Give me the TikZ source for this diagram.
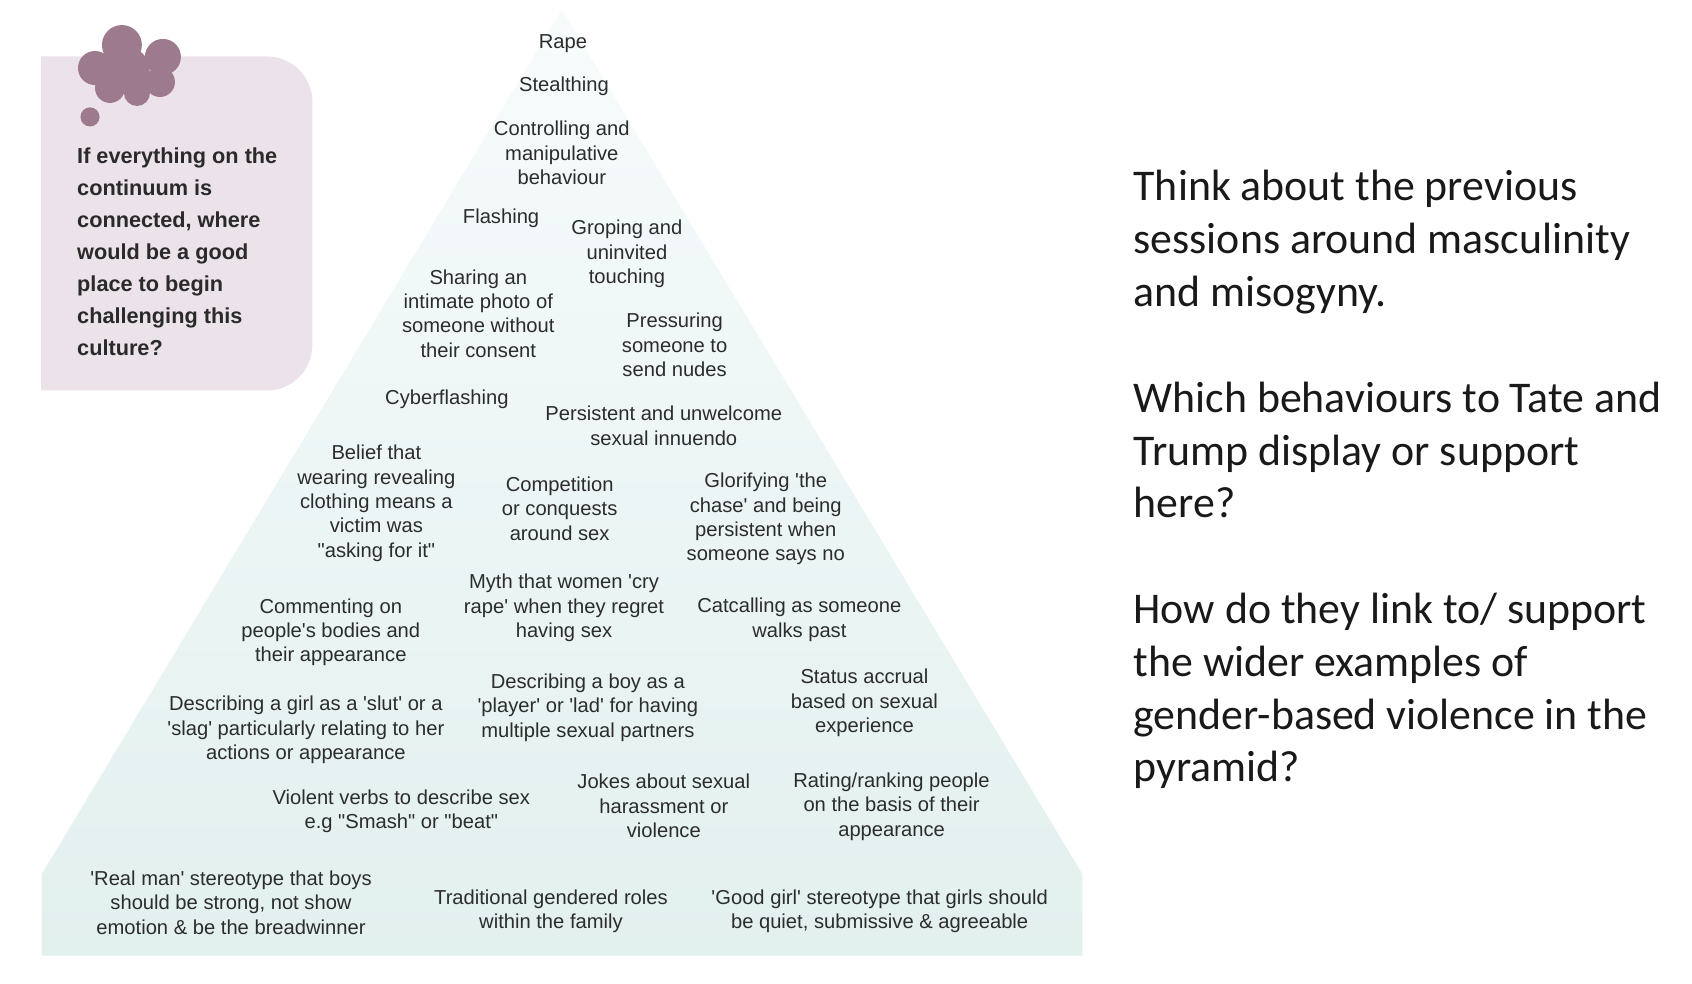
\documentclass[tikz,border=0pt]{standalone}
\usepackage{fontspec}
\setmainfont{Liberation Sans}[Ligatures=TeXOff]
\newfontfamily\calib{Carlito}
\definecolor{boxfill}{HTML}{EBE3E9}
\definecolor{cloudc}{HTML}{9D7A8E}
\definecolor{pyrtop}{HTML}{F7FBFC}
\definecolor{pyrbot}{HTML}{E2F0EE}
\definecolor{txt}{HTML}{2C2C2C}
\definecolor{qtxt}{HTML}{2A2A2A}
\tikzset{
  item/.style={font=\fontsize{18.6}{22.5}\selectfont, align=center, inner sep=0pt, text=txt},
  question/.style={font=\bfseries\fontsize{20}{29.5}\selectfont, align=left, inner sep=0pt, text=qtxt, anchor=north west},
  prompt/.style={font=\calib\fontsize{40.4}{48.7}\selectfont, align=left, inner sep=0pt, text=black!90, anchor=north west},
  blob/.style={fill=cloudc, draw=none}
}
\begin{document}
\begin{tikzpicture}[x=1pt,y=-1pt]
\useasboundingbox (0,0) rectangle (1560,907);
\fill[white] (0,0) rectangle (1560,907);
% pyramid
\shade[top color=pyrtop, bottom color=pyrbot]
  (38.5,881) -- (38.5,806) -- (518,9) -- (998,806) -- (998,881) -- cycle;
% thought box
\fill[boxfill] (38,52) -- (246,52) arc[start angle=-90,end angle=0,radius=42] -- (288,318)
  arc[start angle=0,end angle=90,radius=42] -- (38,360) -- cycle;
% cloud
\fill[blob] (112.4,41.5) circle[radius=18.4];
\fill[blob] (150.2,52.5) circle[radius=16.6];
\fill[blob] (87.6,62.7) circle[radius=15.7];
\fill[blob] (101.4,81.1) circle[radius=13.8];
\fill[blob] (126.3,85.7) circle[radius=12];
\fill[blob] (147.5,75.6) circle[radius=13.8];
\fill[blob] (117,64.5) circle[radius=21];
\fill[blob] (83,107.8) circle[radius=8.8];
\node[question] (q) at (71,136) {If everything on the\\continuum is\\connected, where\\would be a good\\place to begin\\challenging this\\culture?};
% pyramid items
\begin{scope}[xshift=-2pt]
\node[item] (n1) at (521,40) {Rape};
\node[item] (n2) at (522,80) {Stealthing};
\node[item] (n3) at (520,141) {Controlling and\\manipulative\\behaviour};
\node[item] (n4) at (464,201) {Flashing};
\node[item] (n5) at (580,234) {Groping and\\uninvited\\touching};
\node[item] (n6) at (443,289) {Sharing an\\intimate photo of\\someone without\\their consent};
\node[item] (n7) at (624,318) {Pressuring\\someone to\\send nudes};
\node[item] (n8) at (414,368) {Cyberflashing};
\node[item] (n9) at (614,392.5) {Persistent and unwelcome\\sexual innuendo};
\node[item] (n10) at (349,464) {Belief that\\wearing revealing\\clothing means a\\victim was\\"asking for it"};
\node[item] (n11) at (518,469) {Competition\\or conquests\\around sex};
\node[item] (n12) at (708,478.5) {Glorifying 'the\\chase' and being\\persistent when\\someone says no};
\node[item] (n13) at (522,560.5) {Myth that women 'cry\\rape' when they regret\\having sex};
\node[item] (n14) at (307,583) {Commenting on\\people's bodies and\\their appearance};
\node[item] (n15) at (739,571.5) {Catcalling as someone\\walks past};
\node[item] (n16) at (284,673) {Describing a girl as a 'slut' or a\\'slag' particularly relating to her\\actions or appearance};
\node[item] (n17) at (544,652.5) {Describing a boy as a\\'player' or 'lad' for having\\multiple sexual partners};
\node[item] (n18) at (799,648) {Status accrual\\based on sexual\\experience};
\node[item] (n19) at (372,748) {Violent verbs to describe sex\\e.g "Smash" or "beat"};
\node[item] (n20) at (614,743) {Jokes about sexual\\harassment or\\violence};
\node[item] (n21) at (824,743.5) {Rating/ranking people\\on the basis of their\\appearance};
\node[item] (n22) at (215,832) {'Real man' stereotype that boys\\should be strong, not show\\emotion \& be the breadwinner};
\node[item] (n23) at (510,840) {Traditional gendered roles\\within the family};
\node[item] (n24) at (813,840) {'Good girl' stereotype that girls should\\be quiet, submissive \& agreeable};
\end{scope}
% right prompt
\node[prompt] (p) at (1045,157) {Think about the previous\\sessions around masculinity\\and misogyny.\\[48.7pt]Which behaviours to Tate and\\Trump display or support\\here?\\[48.7pt]How do they link to/ support\\the wider examples of\\gender-based violence in the\\pyramid?};
\end{tikzpicture}
\end{document}
